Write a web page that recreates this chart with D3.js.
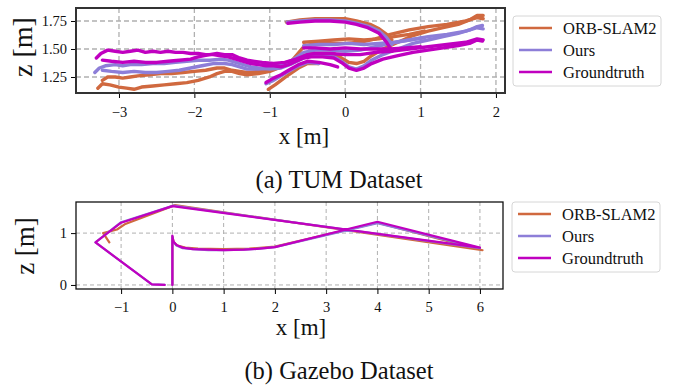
<!DOCTYPE html>
<html>
<head>
<meta charset="utf-8">
<script src="https://cdn.jsdelivr.net/npm/d3@7"></script>
</head>
<body style="margin:0">
<script>
// series names / colours
const seriesNames = ['ORB-SLAM2', 'Ours', 'Groundtruth'];
const seriesColors = ['#d0693f', '#8d7ed8', '#c000c0'];

// TUM ticks
const tumXTicks = [-3, -2, -1, 0, 1, 2];
const tumZTicks = [1.25, 1.50, 1.75];

// TUM trajectories, each one a list of strands of [x, z]
const orbTum = [
  [[-3.22,1.22],[-3.15,1.25],[-3.05,1.25],[-2.95,1.24],[-2.85,1.25],[-2.75,1.26],[-2.60,1.27],[-2.45,1.28],[-2.30,1.28],[-2.15,1.29],[-2.00,1.30],[-1.85,1.31],[-1.70,1.33],[-1.60,1.33],[-1.50,1.31],[-1.40,1.30],[-1.30,1.29],[-1.15,1.30],[-1.00,1.31],[-0.85,1.34],[-0.70,1.38],[-0.55,1.44],[-0.45,1.46],[-0.30,1.46],[-0.15,1.46],[-0.05,1.42],[0.05,1.38],[0.15,1.37],[0.25,1.39],[0.35,1.44],[0.50,1.50],[0.70,1.56],[0.90,1.62],[1.10,1.66],[1.30,1.69],[1.50,1.72],[1.65,1.76],[1.75,1.80],[1.83,1.80]],
  [[-3.28,1.15],[-3.22,1.19],[-3.12,1.18],[-3.00,1.16],[-2.90,1.15],[-2.80,1.14],[-2.70,1.16],[-2.55,1.17],[-2.40,1.18],[-2.25,1.19],[-2.10,1.20],[-1.95,1.22],[-1.80,1.25],[-1.70,1.28],[-1.60,1.30],[-1.50,1.30],[-1.40,1.28],[-1.30,1.27],[-1.15,1.28],[-1.00,1.30],[-0.85,1.34],[-0.70,1.40],[-0.55,1.52],[-0.40,1.55],[-0.20,1.55],[0.00,1.55],[0.20,1.56],[0.40,1.59],[0.60,1.63],[0.85,1.67],[1.10,1.70],[1.35,1.72],[1.60,1.75],[1.75,1.78],[1.83,1.77]],
  [[-1.02,1.14],[-0.93,1.18],[-0.85,1.22],[-0.75,1.27],[-0.62,1.33],[-0.50,1.37],[-0.35,1.37]],
  [[-0.55,1.56],[-0.35,1.57],[-0.15,1.58],[0.05,1.59],[0.25,1.58],[0.45,1.59],[0.65,1.61],[0.85,1.63],[1.05,1.66]],
  [[-0.78,1.74],[-0.60,1.76],[-0.40,1.77],[-0.20,1.77],[0.00,1.77],[0.15,1.75],[0.33,1.72],[0.45,1.68],[0.55,1.63],[0.62,1.58]]
];
const oursTum = [
  [[-3.32,1.29],[-3.26,1.33],[-3.18,1.35],[-3.05,1.36],[-2.95,1.35],[-2.85,1.36],[-2.70,1.36],[-2.55,1.37],[-2.40,1.37],[-2.25,1.38],[-2.10,1.39],[-1.95,1.40],[-1.80,1.40],[-1.65,1.41],[-1.55,1.40],[-1.45,1.38],[-1.35,1.36],[-1.25,1.34],[-1.15,1.33],[-1.00,1.32],[-0.85,1.33],[-0.70,1.37],[-0.55,1.42],[-0.45,1.44],[-0.30,1.44],[-0.15,1.43],[-0.05,1.39],[0.05,1.34],[0.15,1.32],[0.25,1.35],[0.35,1.40],[0.50,1.45],[0.70,1.50],[0.90,1.55],[1.10,1.58],[1.30,1.61],[1.50,1.64],[1.65,1.67],[1.75,1.70],[1.82,1.71]],
  [[-3.22,1.31],[-3.10,1.30],[-2.95,1.29],[-2.80,1.30],[-2.65,1.29],[-2.50,1.29],[-2.35,1.30],[-2.20,1.31],[-2.05,1.33],[-1.90,1.35],[-1.75,1.37],[-1.60,1.37],[-1.50,1.36],[-1.40,1.34],[-1.30,1.32],[-1.15,1.32],[-1.00,1.33],[-0.85,1.36],[-0.70,1.40],[-0.55,1.47],[-0.40,1.49],[-0.20,1.49],[0.00,1.48],[0.20,1.49],[0.40,1.52],[0.60,1.55],[0.85,1.58],[1.10,1.61],[1.35,1.63],[1.60,1.66],[1.75,1.69],[1.83,1.68]],
  [[-1.05,1.19],[-0.95,1.22],[-0.85,1.26],[-0.75,1.30],[-0.62,1.35],[-0.50,1.38],[-0.35,1.37]],
  [[-0.55,1.53],[-0.35,1.54],[-0.15,1.54],[0.05,1.55],[0.25,1.54],[0.45,1.55],[0.65,1.56],[0.85,1.58],[1.05,1.60]],
  [[-0.77,1.74],[-0.60,1.75],[-0.40,1.76],[-0.20,1.76],[0.00,1.75],[0.15,1.73],[0.32,1.70],[0.45,1.66],[0.55,1.60],[0.62,1.54]]
];
const gtTum = [
  [[-3.30,1.42],[-3.24,1.46],[-3.15,1.49],[-3.05,1.48],[-2.95,1.47],[-2.85,1.48],[-2.75,1.49],[-2.65,1.47],[-2.55,1.48],[-2.45,1.47],[-2.35,1.48],[-2.25,1.47],[-2.15,1.47],[-2.05,1.46],[-1.95,1.46],[-1.85,1.45],[-1.75,1.45],[-1.65,1.44],[-1.55,1.43],[-1.45,1.41],[-1.35,1.39],[-1.25,1.37],[-1.15,1.36],[-1.05,1.35],[-0.95,1.35],[-0.85,1.34],[-0.75,1.36],[-0.65,1.39],[-0.55,1.42],[-0.45,1.43],[-0.30,1.43],[-0.15,1.42],[-0.05,1.38],[0.05,1.33],[0.15,1.31],[0.25,1.33],[0.35,1.37],[0.50,1.41],[0.70,1.44],[0.90,1.47],[1.10,1.49],[1.30,1.51],[1.50,1.53],[1.65,1.55],[1.75,1.58],[1.82,1.57]],
  [[-3.22,1.40],[-3.10,1.39],[-2.95,1.38],[-2.80,1.39],[-2.65,1.38],[-2.50,1.38],[-2.35,1.39],[-2.20,1.40],[-2.05,1.41],[-1.95,1.43],[-1.80,1.45],[-1.70,1.46],[-1.60,1.45],[-1.50,1.45],[-1.40,1.42],[-1.30,1.40],[-1.20,1.39],[-1.10,1.38],[-0.95,1.37],[-0.80,1.38],[-0.65,1.41],[-0.50,1.45],[-0.40,1.46],[-0.20,1.46],[0.00,1.45],[0.20,1.45],[0.40,1.47],[0.60,1.48],[0.85,1.50],[1.10,1.52],[1.35,1.54],[1.60,1.56],[1.75,1.59],[1.83,1.58]],
  [[-1.05,1.20],[-0.95,1.24],[-0.85,1.27],[-0.75,1.31],[-0.62,1.36],[-0.50,1.39],[-0.35,1.38],[-0.20,1.36],[-0.10,1.34]],
  [[-0.55,1.51],[-0.40,1.51],[-0.20,1.50],[0.00,1.51],[0.20,1.50],[0.40,1.50],[0.60,1.50],[0.80,1.51],[1.00,1.52]],
  [[-0.76,1.73],[-0.60,1.74],[-0.40,1.75],[-0.20,1.75],[0.00,1.74],[0.15,1.72],[0.30,1.69],[0.45,1.64],[0.55,1.56],[0.62,1.48]]
];

// Gazebo ticks
const gazXTicks = [-1, 0, 1, 2, 3, 4, 5, 6];
const gazZTicks = [0, 1];

// Gazebo trajectories
const orbGazebo = [
  [[0,0],[0,0.93],[0.03,0.82],[0.10,0.76],[0.25,0.72],[0.5,0.70],[1.0,0.69],[1.5,0.70],[2.0,0.74],[4.0,1.20],[6.05,0.67],[0.05,1.54],[-0.93,1.17],[-1.08,1.07],[-1.35,1.00],[-1.23,0.82]]
];
const oursGazebo = [
  [[0,0],[0,0.94],[0.02,0.83],[0.08,0.76],[0.2,0.71],[0.4,0.69],[0.7,0.67],[1.0,0.67],[1.4,0.68],[1.7,0.70],[2.0,0.73],[4.0,1.19],[6.0,0.71],[0.02,1.53],[-1.0,1.21],[-1.5,0.82],[-0.4,0.01],[-0.15,0.0]]
];
const gtGazebo = [
  [[0,0],[0,0.95],[0.02,0.84],[0.08,0.77],[0.2,0.72],[0.4,0.69],[0.7,0.68],[1.0,0.67],[1.4,0.68],[1.7,0.70],[2.0,0.73],[4.0,1.22],[6.0,0.72],[0.0,1.52],[-1.0,1.20],[-1.5,0.82],[-0.4,0.01],[-0.15,0.0]]
];

const FONT = 'Liberation Serif';

const svg = d3.select('body').append('svg')
  .attr('width', 673)
  .attr('height', 385)
  .style('display', 'block')
  .style('font-family', FONT);

// helper so every label gets the serif face
function label(parent, str, size) {
  return parent.append('text')
    .attr('font-size', size)
    .style('font-family', FONT)
    .attr('fill', '#111')
    .text(str);
}

function panel(opt) {
  const x = d3.scaleLinear().domain(opt.xDomain).range([opt.left, opt.right]);
  const y = d3.scaleLinear().domain(opt.yDomain).range([opt.bottom, opt.top]);
  const g = svg.append('g');

  // grid
  g.append('g').selectAll('line').data(opt.xTicks).join('line')
    .attr('x1', d => x(d)).attr('x2', d => x(d))
    .attr('y1', opt.top).attr('y2', opt.bottom)
    .attr('stroke', '#b0b0b0').attr('stroke-width', opt.gridW)
    .attr('stroke-dasharray', opt.dash);
  g.append('g').selectAll('line').data(opt.yTicks).join('line')
    .attr('x1', opt.left).attr('x2', opt.right)
    .attr('y1', d => y(d)).attr('y2', d => y(d))
    .attr('stroke', '#b0b0b0').attr('stroke-width', opt.gridW)
    .attr('stroke-dasharray', opt.dash);

  // trajectories
  const line = d3.line().x(d => x(d[0])).y(d => y(d[1]));
  const clipId = 'clip' + opt.id;
  g.append('clipPath').attr('id', clipId).append('rect')
    .attr('x', opt.left).attr('y', opt.top)
    .attr('width', opt.right - opt.left).attr('height', opt.bottom - opt.top);
  const lines = g.append('g').attr('clip-path', 'url(#' + clipId + ')');
  opt.series.forEach((strands, i) => {
    lines.append('g').selectAll('path').data(strands).join('path')
      .attr('d', line)
      .attr('fill', 'none')
      .attr('stroke', seriesColors[i])
      .attr('stroke-width', opt.lineW)
      .attr('stroke-linejoin', 'round')
      .attr('stroke-linecap', 'round');
  });

  // axes
  const xAxis = g.append('g')
    .attr('transform', 'translate(0,' + opt.bottom + ')')
    .call(d3.axisBottom(x).tickValues(opt.xTicks).tickSize(5).tickPadding(opt.xPad).tickFormat(d3.format('d')));
  const yAxis = g.append('g')
    .attr('transform', 'translate(' + opt.left + ',0)')
    .call(d3.axisLeft(y).tickValues(opt.yTicks).tickSize(5).tickPadding(4).tickFormat(d3.format(opt.yFmt)));
  [xAxis, yAxis].forEach(a => {
    a.style('font-family', FONT);
    a.select('.domain').remove();
    a.selectAll('.tick line').attr('stroke', '#000').attr('stroke-width', 1);
    a.selectAll('.tick text').attr('font-size', 14.5).attr('fill', '#111')
      .style('font-family', FONT);
  });

  // frame
  g.append('rect')
    .attr('x', opt.left).attr('y', opt.top)
    .attr('width', opt.right - opt.left).attr('height', opt.bottom - opt.top)
    .attr('fill', 'none').attr('stroke', opt.frameColor).attr('stroke-width', opt.frameW);

  // axis labels
  label(g, 'x [m]', 23)
    .attr('x', opt.xLabelX).attr('y', opt.xLabelY)
    .attr('text-anchor', 'middle');
  label(g, 'z [m]', opt.zSize)
    .attr('transform', 'translate(' + opt.zLabelX + ',' + opt.zLabelY + ') rotate(-90)')
    .attr('text-anchor', 'middle');

  // caption
  label(g, opt.caption, 24.5)
    .attr('x', 339).attr('y', opt.captionY)
    .attr('text-anchor', 'middle');

  // legend
  const lg = g.append('g').attr('transform', 'translate(' + opt.legX + ',' + opt.legY + ')');
  lg.append('rect')
    .attr('x', 0).attr('y', 0).attr('width', 148).attr('height', 70)
    .attr('rx', 3).attr('fill', '#fff').attr('stroke', '#d6d6d6').attr('stroke-width', 1);
  seriesNames.forEach((name, i) => {
    const yy = 12 + i * 22;
    lg.append('line')
      .attr('x1', 6).attr('x2', 39).attr('y1', yy).attr('y2', yy)
      .attr('stroke', seriesColors[i]).attr('stroke-width', 2.6);
    label(lg, name, 16.5).attr('x', 50).attr('y', yy + 5.5);
  });
}

panel({
  id: 'tum',
  left: 76, right: 505, top: 8, bottom: 93,
  xDomain: [-3.57, 2.12], yDomain: [1.107, 1.866],
  xTicks: tumXTicks, yTicks: tumZTicks, yFmt: '.2f', xPad: 9,
  series: [orbTum, oursTum, gtTum],
  lineW: 3.4, gridW: 1.3, dash: '5,3',
  frameColor: '#333', frameW: 2,
  xLabelX: 304, xLabelY: 144,
  zLabelX: 32, zLabelY: 47, zSize: 28,
  caption: '(a) TUM Dataset', captionY: 188,
  legX: 513, legY: 16
});

panel({
  id: 'gaz',
  left: 76, right: 503, top: 202, bottom: 289,
  xDomain: [-1.88, 6.45], yDomain: [-0.078, 1.60],
  xTicks: gazXTicks, yTicks: gazZTicks, yFmt: 'd', xPad: 8,
  series: [orbGazebo, oursGazebo, gtGazebo],
  lineW: 2.2, gridW: 1, dash: '4,3',
  frameColor: '#111', frameW: 1.3,
  xLabelX: 301, xLabelY: 335,
  zLabelX: 34, zLabelY: 246, zSize: 27,
  caption: '(b) Gazebo Dataset', captionY: 379,
  legX: 512, legY: 202
});
</script>
</body>
</html>
